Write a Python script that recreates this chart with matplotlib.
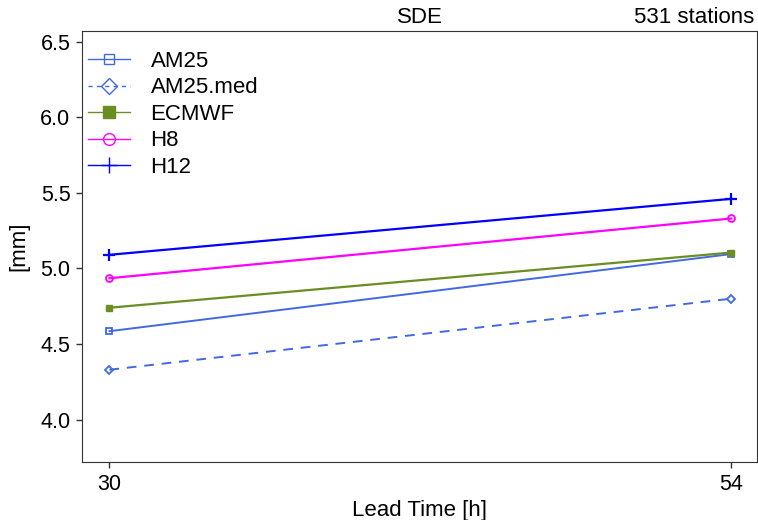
import matplotlib
matplotlib.use("Agg")
import matplotlib.pyplot as plt

lead_times = [30, 54]
am25 = [4.585, 5.095]
am25_med = [4.33, 4.80]
ecmwf = [4.74, 5.105]
h8 = [4.935, 5.33]
h12 = [5.09, 5.46]
yticks = [4.0, 4.5, 5.0, 5.5, 6.0, 6.5]

plt.rcParams['font.family'] = ['Liberation Sans', 'DejaVu Sans']
fig = plt.figure(figsize=(7.58, 5.20), dpi=100)
ax = fig.add_axes([0.1085, 0.1115, 0.8905, 0.829])

ax.plot(lead_times, am25, color='#4169E1', lw=1.4, marker='s', mfc='none', ms=4.5, mew=1.3, label='AM25')
ax.plot(lead_times, am25_med, color='#4169E1', lw=1.4, ls=(0, (5, 4)), marker='D', mfc='none', ms=4.5, mew=1.3, label='AM25.med')
ax.plot(lead_times, ecmwf, color='#6B8E23', lw=1.6, marker='s', ms=4.5, label='ECMWF')
ax.plot(lead_times, h8, color='#FF00FF', lw=1.6, marker='o', mfc='none', ms=5, mew=1.3, label='H8')
ax.plot(lead_times, h12, color='#0000FF', lw=1.6, marker='+', ms=8, mew=1.6, label='H12')

ax.set_xlim(28.95, 55.0)
ax.set_ylim(3.72, 6.57)
ax.set_xticks(lead_times)
ax.set_yticks(yticks)
ax.set_yticklabels([f"{v:.1f}" for v in yticks])
ax.tick_params(axis='both', direction='out', length=4.5, width=1, labelsize=15.5, colors='#333333', labelcolor='black', pad=4)
for s in ax.spines.values():
    s.set_color('#333333')
ax.set_xlabel('Lead Time [h]', fontsize=16, labelpad=4)
ax.set_ylabel('[mm]', fontsize=16, labelpad=8)

ax.annotate('SDE', xy=(0.5, 1.0), xycoords='axes fraction', xytext=(0, 2), textcoords='offset points',
            ha='center', va='bottom', fontsize=16)
ax.annotate('531 stations', xy=(1.0, 1.0), xycoords='axes fraction', xytext=(-2, 2), textcoords='offset points',
            ha='right', va='bottom', fontsize=16)

leg = ax.legend(loc='upper left', bbox_to_anchor=(0.0089, 0.954), frameon=False, fontsize=16,
                handlelength=1.9, handletextpad=0.9, labelspacing=0.25, borderaxespad=0, borderpad=0)
sizes = [7.2, 8.5, 8, 8.5, 12]
for h, s in zip(leg.legend_handles, sizes):
    h.set_markersize(s)
    h.set_linewidth(1.0)
    h.set_markeredgewidth(1.0)
leg.legend_handles[1].set_linestyle((0, (3, 3)))

fig.savefig('out.png', dpi=100)
